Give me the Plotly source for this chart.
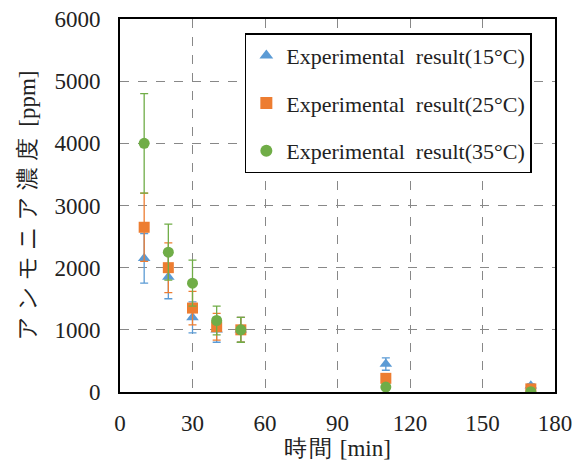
import plotly.graph_objects as go

# Data
time_min = [10, 20, 30, 40, 50, 110, 170]
conc_15 = [2150, 1850, 1200, 1000, 1000, 450, 100]
err_15 = [400, 350, 250, 200, 200, 100, 30]
conc_25 = [2650, 2000, 1350, 1050, 1000, 220, 50]
err_25 = [550, 400, 270, 215, 200, 60, 20]
conc_35 = [4000, 2250, 1750, 1150, 1000, 80, 5]
err_35 = [800, 450, 370, 230, 200, 30, 10]

names = ["Experimental  result(15°C)", "Experimental  result(25°C)", "Experimental  result(35°C)"]
colors = ["#5B9BD5", "#ED7D31", "#70AD47"]
symbols = ["triangle-up", "square", "circle"]
sizes = [11, 11, 11]
series = [(conc_15, err_15), (conc_25, err_25), (conc_35, err_35)]

fig = go.Figure()
for i, ((vals, errs), name, c, s, sz) in enumerate(zip(series, names, colors, symbols, sizes)):
    fig.add_trace(go.Scatter(
        x=time_min, y=vals, mode="markers", name=name, legendgroup=f"g{i}",
        marker=dict(symbol=s, color=c, size=sz),
        error_y=dict(type="data", array=errs, visible=True, color=c, thickness=1.3, width=4),
    ))

SERIF = "Liberation Serif"
fig.update_layout(
    width=585, height=464,
    margin=dict(l=112, r=38, t=11, b=80),
    paper_bgcolor="white", plot_bgcolor="white",
    font=dict(family=SERIF, size=23, color="#222"),
    showlegend=True,
    legend=dict(
        x=0.287, y=0.962, xanchor="left", yanchor="top",
        bordercolor="black", borderwidth=1.5, bgcolor="white",
        font=dict(family=SERIF, size=22, color="#222"),
        tracegroupgap=16, itemsizing="constant",
        entrywidth=262, entrywidthmode="pixels",
    ),
    xaxis=dict(
        range=[0, 180], tickvals=[0, 30, 60, 90, 120, 150, 180],
        showgrid=True, gridcolor="#888", griddash="dash", gridwidth=1,
        showline=True, linecolor="black", linewidth=2, mirror=True,
        zeroline=False, ticks="", automargin=False, ticklabeloverflow="allow",
        ticklabelstandoff=9,
        tickfont=dict(family=SERIF, size=23),
        title=dict(text='<span style="letter-spacing:2px">時間</span> [min]',
                   font=dict(family=SERIF, size=23), standoff=4),
    ),
    yaxis=dict(
        range=[0, 6000], tickvals=[0, 1000, 2000, 3000, 4000, 5000, 6000],
        showgrid=True, gridcolor="#888", griddash="dash", gridwidth=1,
        showline=True, linecolor="black", linewidth=2, mirror=True,
        zeroline=False, ticks="", automargin=False, ticklabeloverflow="allow",
        ticklabelstandoff=13,
        tickfont=dict(family=SERIF, size=23),
        title=dict(text='<span style="letter-spacing:6px">アンモニア濃度</span> [ppm]',
                   font=dict(family=SERIF, size=23), standoff=12),
    ),
)

fig.write_html("out.html")
